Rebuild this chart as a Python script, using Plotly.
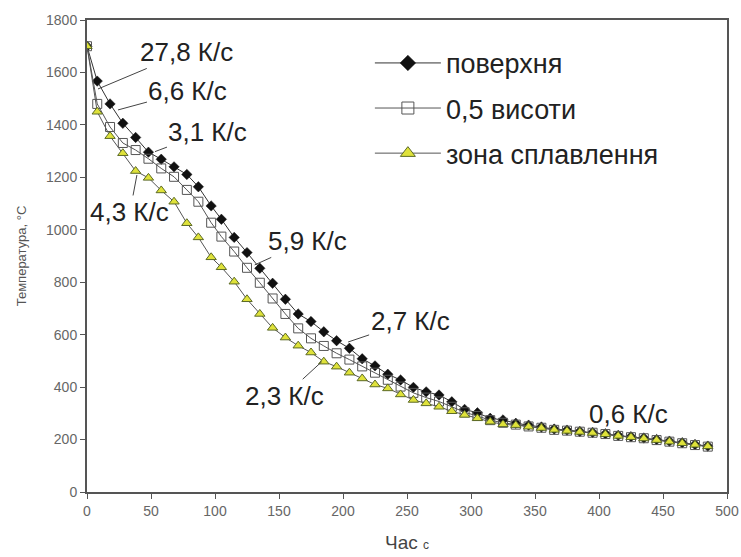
import plotly.graph_objects as go

# ---- data ----
time_s = [0, 8, 18, 28, 38, 48, 58, 68, 78, 87,
          97, 105, 115, 125, 135, 145, 155, 165, 175, 185,
          195, 205, 215, 225, 235, 245, 255, 265, 275, 285,
          295, 305, 315, 325, 335, 345, 355, 365, 375, 385,
          395, 405, 415, 425, 435, 445, 455, 465, 475, 485]

surface = [1700, 1567, 1480, 1406, 1352, 1296, 1269, 1240, 1211, 1164,
           1091, 1040, 971, 913, 853, 796, 735, 679, 650, 611,
           577, 548, 508, 481, 449, 427, 399, 382, 370, 344,
           315, 302, 281, 275, 262, 255, 248, 240, 236, 231,
           227, 222, 216, 211, 206, 200, 194, 188, 181, 175]

half_height = [1700, 1480, 1392, 1331, 1304, 1271, 1234, 1202, 1152, 1107,
               1027, 974, 917, 855, 798, 738, 679, 624, 586, 557,
               529, 505, 479, 455, 428, 402, 378, 360, 345, 325,
               304, 290, 274, 264, 257, 250, 245, 237, 234, 230,
               226, 221, 214, 209, 205, 198, 192, 186, 179, 173]

fusion_zone = [1700, 1450, 1357, 1292, 1224, 1198, 1150, 1107, 1025, 971,
               895, 857, 802, 735, 679, 626, 589, 558, 532, 497,
               478, 455, 433, 410, 395, 372, 351, 338, 325, 308,
               294, 281, 268, 258, 255, 249, 244, 237, 233, 229,
               225, 220, 214, 209, 204, 198, 192, 186, 180, 174]

series_names = ["поверхня", "0,5 висоти", "зона сплавлення"]

# cooling-rate labels: text, pointed time, pointed temperature
rate_labels = ["27,8 К/с", "6,6 К/с", "3,1 К/с", "4,3 К/с", "5,9 К/с", "2,7 К/с", "2,3 К/с", "0,6 К/с"]
rate_t = [8.6, 24.2, 53.1, 39, 131, 204, 183.4, 422.7]
rate_T = [1537, 1457, 1298, 1209, 866, 572, 497, 297.5]
rate_arrow = [True, True, True, True, True, True, True, False]
rate_offset = [(88, -37), (70, -19), (53, -20), (-7, 37), (53, -24), (62, -21), (-37, 34), (0, 0)]

x_ticks = list(range(0, 501, 50))
y_ticks = list(range(0, 1801, 200))

FONT = "Liberation Sans, Arial, sans-serif"

styles = [
    dict(line=dict(color="#333333", width=1),
         marker=dict(symbol="diamond", color="#111111", line=dict(color="#111111", width=0.5))),
    dict(line=dict(color="#555555", width=1),
         marker=dict(symbol="square-open", color="#555555", line=dict(width=1))),
    dict(line=dict(color="#555555", width=1),
         marker=dict(symbol="triangle-up", color="#dfe23a", line=dict(color="#5c6a26", width=1))),
]
plot_sizes = [8, 9, 9]
legend_sizes = [12, 12, 13]
values = [surface, half_height, fusion_zone]

fig = go.Figure()
for name, vals, st, ps in zip(series_names, values, styles, plot_sizes):
    fig.add_trace(go.Scatter(
        x=time_s, y=vals, name=name, mode="lines+markers", showlegend=False,
        line=st["line"], marker=dict(st["marker"], size=ps)))
# legend entries (larger symbols, as in the reference legend)
for i, (name, st, ls) in enumerate(zip(series_names, styles, legend_sizes)):
    fig.add_trace(go.Scatter(
        x=[None], y=[None], name=name, mode="lines+markers", legendgroup=str(i),
        line=st["line"], marker=dict(st["marker"], size=ls)))

for txt, tx, ty, arr, (ax, ay) in zip(rate_labels, rate_t, rate_T, rate_arrow, rate_offset):
    if arr:
        fig.add_annotation(x=tx, y=ty, text=txt, showarrow=True, arrowhead=0, arrowwidth=1,
                           arrowcolor="#444444", ax=ax, ay=ay, standoff=0,
                           font=dict(family=FONT, size=26, color="#222222"))
    else:
        fig.add_annotation(x=tx, y=ty, text=txt, showarrow=False,
                           font=dict(family=FONT, size=26, color="#222222"))

axis_common = dict(showline=True, linecolor="#555555", linewidth=2, mirror=True,
                   ticks="outside", ticklen=5, tickcolor="#555555", tickwidth=1,
                   showgrid=False, zeroline=False, automargin=False,
                   tickfont=dict(family=FONT, size=14, color="#666666"))

fig.update_xaxes(range=[0, 500], tickvals=x_ticks,
                 title=dict(text="Час <span style='font-size:12px'>с</span>",
                            font=dict(family=FONT, size=19, color="#444444"), standoff=18),
                 **axis_common)
fig.update_yaxes(range=[0, 1800], tickvals=y_ticks,
                 title=dict(text="Температура, °С",
                            font=dict(family=FONT, size=13, color="#555555"), standoff=16),
                 **axis_common)

fig.update_layout(
    width=741, height=557,
    margin=dict(l=87, r=14, t=20, b=65),
    paper_bgcolor="white", plot_bgcolor="white",
    font=dict(family=FONT),
    legend=dict(x=0.442, y=0.96, xanchor="left", yanchor="top",
                font=dict(family=FONT, size=27, color="#222222"),
                bgcolor="rgba(0,0,0,0)",
                tracegroupgap=7, itemwidth=66),
)

fig.write_html("out.html")
